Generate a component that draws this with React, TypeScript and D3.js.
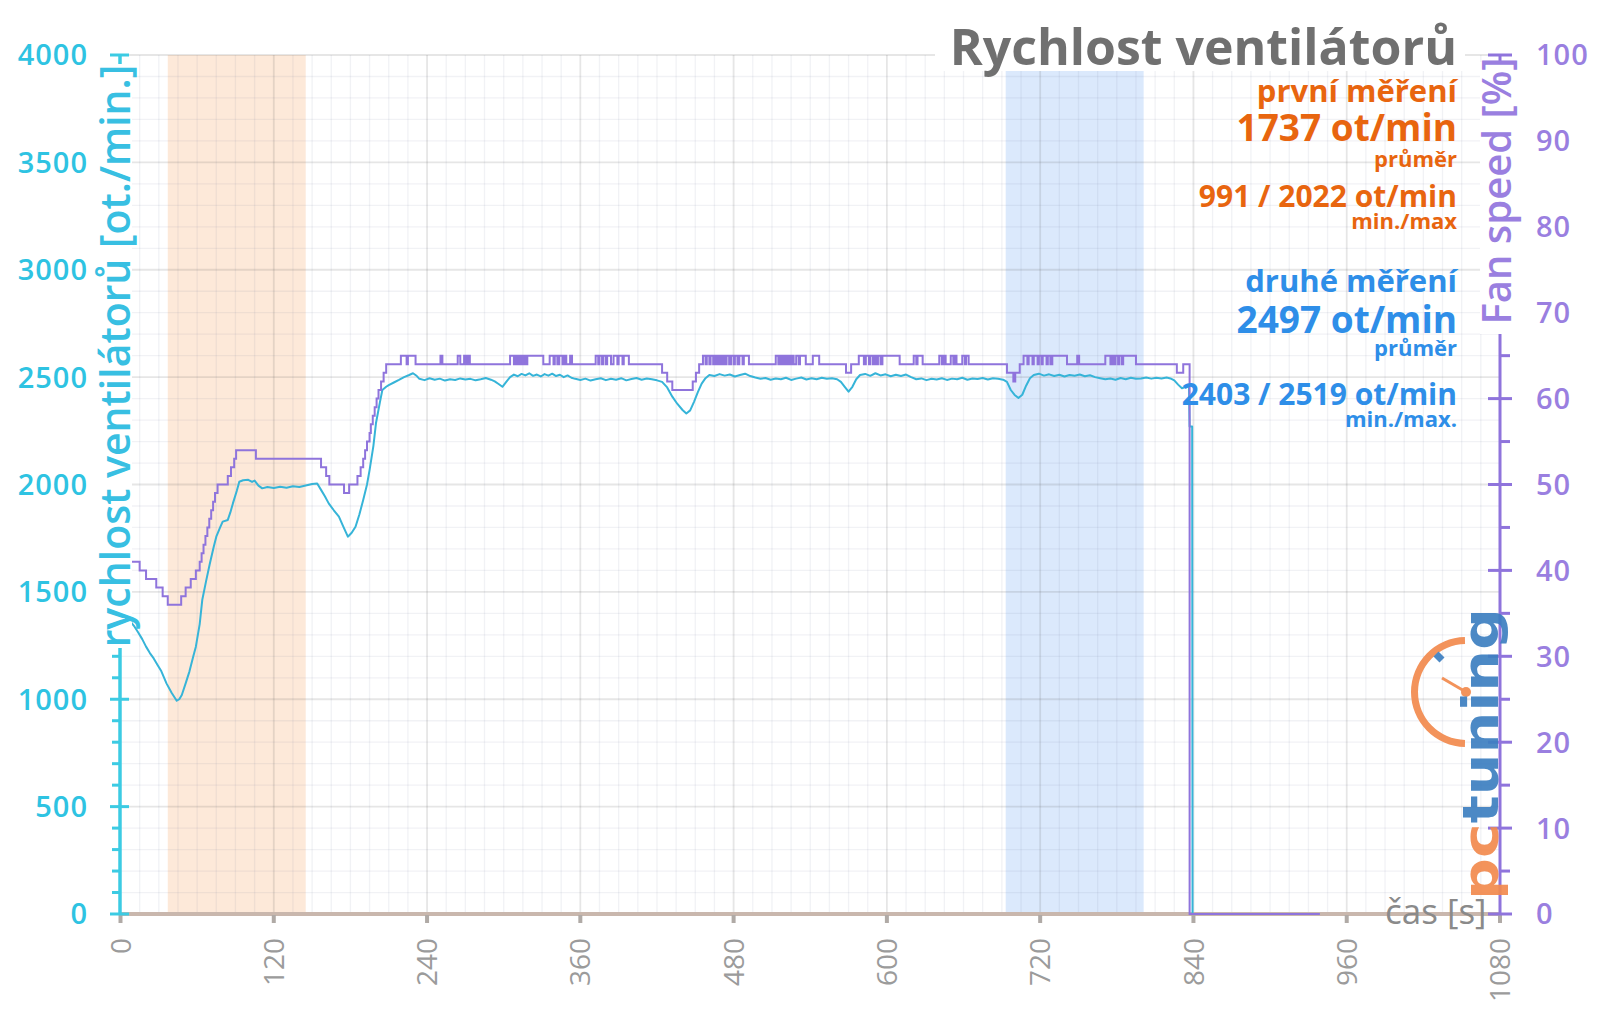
import React from "react";
import * as d3 from "d3";

// ---------- DATA ----------
const xTicks = [0, 120, 240, 360, 480, 600, 720, 840, 960, 1080];
const leftTicks = [0, 500, 1000, 1500, 2000, 2500, 3000, 3500, 4000];
const rightTicks = [0, 10, 20, 30, 40, 50, 60, 70, 80, 90, 100];

const firstRange: [number, number] = [37, 145];
const secondRange: [number, number] = [693, 801];

// fan rpm (time s, rpm)
const rpmSeries: [number, number][] = [
  [0, 1410], [4, 1390], [8, 1360], [11, 1338], [14, 1310], [17, 1280], [20, 1245], [23, 1215],
  [26, 1190], [29, 1160], [32, 1130], [36, 1074], [40, 1030], [44, 993], [46, 1000], [48, 1020],
  [51, 1074], [54, 1130], [57, 1200], [59, 1245], [62, 1350], [64, 1462], [67, 1550], [70, 1633],
  [73, 1710], [75, 1757], [78, 1800], [80, 1827], [84, 1835], [86, 1870], [88, 1912], [91, 1970],
  [93, 2013], [96, 2020], [100, 2022], [103, 2012], [105, 2018], [108, 1995], [111, 1982], [115, 1988],
  [120, 1984], [125, 1990], [130, 1985], [135, 1992], [140, 1988], [145, 1995], [150, 2002], [154, 2005],
  [157, 1975], [160, 1945], [163, 1912], [167, 1880], [171, 1850], [174, 1810], [178, 1757], [181, 1775],
  [184, 1803], [187, 1860], [190, 1928], [193, 2000], [195, 2067], [198, 2180], [200, 2285], [203, 2380],
  [205, 2440], [208, 2455], [210, 2463], [214, 2475], [218, 2487], [222, 2500], [226, 2510], [229, 2518],
  [232, 2505], [234, 2492], [238, 2486], [242, 2495], [246, 2488], [250, 2493], [254, 2484], [258, 2490],
  [262, 2487], [266, 2494], [270, 2489], [274, 2492], [278, 2485], [282, 2490], [286, 2496], [290, 2488],
  [293, 2480], [296, 2468], [299, 2455], [302, 2478], [305, 2500], [308, 2512], [311, 2504], [314, 2515],
  [317, 2508], [320, 2518], [323, 2506], [326, 2512], [329, 2503], [332, 2514], [335, 2507], [338, 2516],
  [341, 2505], [344, 2511], [347, 2500], [350, 2508], [353, 2497], [356, 2492], [360, 2487], [364, 2493],
  [368, 2484], [372, 2490], [376, 2495], [380, 2486], [384, 2492], [388, 2488], [392, 2495], [396, 2485],
  [400, 2491], [404, 2496], [408, 2488], [412, 2494], [416, 2490], [420, 2485], [424, 2478], [428, 2452],
  [432, 2409], [436, 2375], [440, 2347], [443, 2331], [446, 2345], [449, 2385], [452, 2430], [455, 2470],
  [458, 2495], [461, 2510], [465, 2505], [469, 2514], [473, 2507], [477, 2512], [481, 2503], [485, 2510],
  [489, 2516], [493, 2505], [497, 2498], [501, 2492], [505, 2496], [509, 2488], [513, 2494], [517, 2490],
  [521, 2497], [525, 2487], [529, 2493], [533, 2498], [537, 2489], [541, 2495], [545, 2490], [549, 2497],
  [553, 2492], [557, 2495], [561, 2490], [564, 2478], [567, 2455], [570, 2432], [573, 2455], [576, 2490],
  [579, 2510], [583, 2515], [587, 2506], [591, 2518], [595, 2508], [599, 2513], [603, 2504], [607, 2511],
  [611, 2505], [615, 2512], [619, 2500], [623, 2490], [627, 2494], [631, 2486], [635, 2492], [639, 2489],
  [643, 2495], [647, 2487], [651, 2493], [655, 2490], [659, 2497], [663, 2488], [667, 2494], [671, 2491],
  [675, 2496], [679, 2489], [683, 2495], [687, 2492], [691, 2488], [694, 2478], [697, 2440], [700, 2417],
  [703, 2403], [706, 2418], [709, 2460], [712, 2495], [715, 2510], [719, 2516], [723, 2507], [727, 2513],
  [731, 2505], [735, 2511], [739, 2503], [743, 2510], [747, 2506], [751, 2512], [755, 2504], [759, 2509],
  [763, 2500], [767, 2495], [771, 2490], [775, 2494], [779, 2488], [783, 2496], [787, 2490], [791, 2497],
  [795, 2492], [799, 2494], [803, 2498], [807, 2493], [811, 2497], [815, 2494], [819, 2498], [822, 2494],
  [825, 2485], [828, 2465], [831, 2448], [834, 2455], [836.5, 2455], [837, 2270], [839, 2270], [839.3, 0],
  [840, 0],
];

// fan speed % (time s, percent) change points, step-after
const fanSeries: [number, number][] = [
  [0, 41], [15, 40], [20, 39], [28, 38], [33, 37], [37, 36], [47.5, 37], [51, 38], [55, 39], [59, 40],
  [62, 41], [63.5, 42], [65, 43], [66.5, 44], [68, 45], [69.5, 46], [71, 47], [72.5, 48], [74, 49],
  [76, 50], [84, 51], [86.5, 52], [89, 53], [90.5, 54], [106, 53], [157, 52], [161, 51], [163.5, 50],
  [175, 49], [179, 50], [185.5, 51], [188, 52], [190, 53], [191.5, 54], [193, 55], [195, 56], [196, 57],
  [197.5, 58], [199, 59], [200.5, 60], [202, 61], [204, 62], [206, 63], [208, 64],
  [219.5, 65], [224, 64], [225, 65], [231, 64],
  [250.5, 65], [252, 64],
  [264, 65], [266, 64], [269, 65], [270.5, 64], [272, 65], [273.5, 64],
  [305, 65], [308, 64], [309.5, 65], [311, 64], [312.5, 65], [314, 64], [315.5, 65], [317, 64],
  [318.5, 65], [331, 64], [336, 65], [339, 64], [340, 65], [342, 64], [343.5, 65], [346, 64],
  [347.5, 65], [349, 64], [352, 65], [353.5, 64],
  [372, 65], [374, 64], [375, 65], [377, 64], [378, 65], [380, 64], [381, 65], [384, 64], [386, 65],
  [389, 64], [390, 65], [393, 64], [394, 65], [398, 64],
  [424, 63], [428, 62], [432, 61], [448, 62], [450.5, 63], [453, 64],
  [456, 65], [458, 64], [459, 65], [461, 64], [462, 65], [464, 64], [465.5, 65], [467, 64], [468.5, 65],
  [470, 64], [471.5, 65], [473, 64], [474.5, 65], [476.5, 64], [478, 65], [480, 64], [481, 65],
  [483, 64], [484.5, 65], [487, 64], [488, 65], [492, 64],
  [513, 65], [515, 64], [516.5, 65], [518, 64], [519.5, 65], [521, 64], [522.5, 65], [524, 64],
  [525.5, 65], [527, 64], [529, 65], [531, 64], [532, 65], [536.5, 64], [542, 65], [547, 64],
  [568, 63], [572, 64],
  [578, 65], [582, 64], [583.5, 65], [586, 64], [587, 65], [589, 64], [590.5, 65], [592, 64],
  [593, 65], [595, 64], [596.5, 65], [610, 64],
  [621, 65], [623, 64], [624, 65], [628, 64],
  [641, 65], [643, 64], [644.5, 65], [646, 64], [650, 65], [652, 64], [653, 65], [654.5, 64],
  [659, 65], [661, 64], [662, 65], [664, 64],
  [694, 63], [699, 62], [700.5, 63], [704, 64], [707, 65], [710, 64], [711, 65], [714, 64], [715, 65],
  [718, 64], [719, 65], [721, 64], [722, 65], [725, 64], [726, 65], [728, 64], [729.5, 65], [741, 64],
  [749, 65], [750.5, 64],
  [771, 65], [775, 64], [776, 65], [777.5, 64], [779, 65], [781, 64], [782, 65], [784, 64], [785, 65],
  [795, 64], [827, 63], [832, 64], [837, 0], [939, 0],
];

const titleText = "Rychlost ventilátorů";
const leftAxisTitle = "rychlost ventilátorů [ot./min.]";
const rightAxisTitle = "Fan speed [%]";
const xAxisTitle = "čas [s]";

const firstStats = ["první měření", "1737 ot/min", "průměr", "991 / 2022 ot/min", "min./max"];
const secondStats = ["druhé měření", "2497 ot/min", "průměr", "2403 / 2519 ot/min", "min./max."];

// ---------- STYLE ----------
const FONT = "'Open Sans', 'Noto Sans', sans-serif";
const CYAN_LINE = "#36b4d8";
const PURPLE = "#9a7fe0";
const PURPLE_LINE = "#8f74dc";
const ORANGE = "#e8650f";
const BLUE = "#2e8ee8";

export default function App() {
  const W = 1600, H = 1009;
  const x = d3.scaleLinear().domain([0, 1080]).range([120.5, 1500]);
  const y = d3.scaleLinear().domain([0, 4000]).range([914, 55]);
  const yp = d3.scaleLinear().domain([0, 100]).range([914, 55]);

  const rpmLine = d3.line<[number, number]>().x(d => x(d[0])).y(d => y(d[1])).curve(d3.curveLinear);
  const fanLine = d3.line<[number, number]>().x(d => x(d[0])).y(d => yp(d[1])).curve(d3.curveStepAfter);

  const minorX = d3.range(0, 1081, 15).filter(v => v % 120 !== 0);
  const minorY = d3.range(0, 4001, 100).filter(v => v % 500 !== 0);
  const rightMinor = d3.range(5, 100, 10);

  const statY = [102, 141, 167, 207, 229];
  const statY2 = [292, 333, 356, 405, 427];
  const statSize = [31, 37, 22, 30, 22];

  const arcGen = d3.arc()({
    innerRadius: 48, outerRadius: 55, startAngle: -Math.PI + 0.02, endAngle: -0.02,
  } as any) as string;

  return (
    <svg width={W} height={H} viewBox={`0 0 ${W} ${H}`}
      style={{ position: "absolute", left: 0, top: 0, background: "#fff" }}
      fontFamily={FONT}>
      <rect x={0} y={0} width={W} height={H} fill="#fff" />
      {/* shaded ranges */}
      <rect x={x(firstRange[0])} y={55} width={x(firstRange[1]) - x(firstRange[0])} height={914 - 55} fill="#fde9d9" />
      <rect x={x(secondRange[0])} y={55} width={x(secondRange[1]) - x(secondRange[0])} height={914 - 55} fill="#dbe9fc" />

      {/* grid */}
      {minorX.map(v => (
        <line key={"mx" + v} x1={x(v)} x2={x(v)} y1={55} y2={914} stroke="rgba(120,130,160,0.10)" strokeWidth={1.3} />
      ))}
      {minorY.map(v => (
        <line key={"my" + v} x1={120} x2={1500} y1={y(v)} y2={y(v)} stroke="rgba(120,130,160,0.10)" strokeWidth={1.3} />
      ))}
      {xTicks.filter(v => v > 0 && v < 1080).map(v => (
        <line key={"Mx" + v} x1={x(v)} x2={x(v)} y1={55} y2={914} stroke="rgba(90,90,90,0.15)" strokeWidth={1.8} />
      ))}
      {leftTicks.filter(v => v > 0).map(v => (
        <line key={"My" + v} x1={120} x2={1500} y1={y(v)} y2={y(v)} stroke="rgba(90,90,90,0.15)" strokeWidth={1.8} />
      ))}

      {/* white box behind title */}
      <rect x={935} y={8} width={530} height={63} fill="#fff" />

      {/* x axis line */}
      <line x1={119} x2={1500} y1={914} y2={914} stroke="#c9b7ad" strokeWidth={4} />

      {/* series */}
      <path d={rpmLine(rpmSeries) || ""} fill="none" stroke={CYAN_LINE} strokeWidth={2} strokeLinejoin="round" />
      <path d={fanLine(fanSeries) || ""} fill="none" stroke={PURPLE_LINE} strokeWidth={2} />

      {/* x axis ticks */}
      {xTicks.map(v => (
        <g key={"xt" + v}>
          <line x1={x(v)} x2={x(v)} y1={915} y2={923} stroke="#b0aaa6" strokeWidth={4} />
          <text transform={`translate(${x(v)},938) rotate(-90)`} textAnchor="end" dy="0.36em"
            fontSize={28} fill="#9b9b9b">{v}</text>
        </g>
      ))}
      <text x={1385} y={924} fontSize={35} fill="#8a8a8a">{xAxisTitle}</text>

      {/* left axis */}
      <line x1={120} x2={120} y1={55} y2={915} stroke="#3ccbe3" strokeWidth={3.5} />
      {minorY.map(v => (
        <line key={"lmt" + v} x1={112} x2={120} y1={y(v)} y2={y(v)} stroke="#3ccbe3" strokeWidth={3} />
      ))}
      {leftTicks.map(v => (
        <g key={"lt" + v}>
          <line x1={110} x2={129} y1={y(v)} y2={y(v)} stroke="#3ccbe3" strokeWidth={3} />
          <text x={88} y={y(v)} dy="0.36em" textAnchor="end" fontSize={29} fontWeight={600}
            letterSpacing={1} fill="#2ec3e2">{v}</text>
        </g>
      ))}
      <rect x={94} y={64} width={38} height={584} fill="#fff" />
      <text transform={`translate(130,356) rotate(-90)`} textAnchor="middle" fontSize={41} fontWeight={600}
        fill="#38bfe2">{leftAxisTitle}</text>

      {/* right axis */}
      <line x1={1500} x2={1500} y1={55} y2={915} stroke={PURPLE_LINE} strokeWidth={3} />
      {rightMinor.map(v => (
        <line key={"rmt" + v} x1={1500} x2={1510} y1={yp(v)} y2={yp(v)} stroke={PURPLE_LINE} strokeWidth={3} />
      ))}
      {rightTicks.map(v => (
        <g key={"rt" + v}>
          <line x1={1488} x2={1512} y1={yp(v)} y2={yp(v)} stroke={PURPLE_LINE} strokeWidth={3} />
          <text x={1536} y={yp(v)} dy="0.36em" fontSize={29} fontWeight={600} letterSpacing={1}
            fill={PURPLE}>{v}</text>
        </g>
      ))}
      <rect x={1480} y={62} width={36} height={272} fill="#fff" />
      <text transform={`translate(1511,191) rotate(-90)`} textAnchor="middle" fontSize={40} fontWeight={600}
        fill={PURPLE}>{rightAxisTitle}</text>

      {/* title and stats */}
      <text x={1457} y={65} textAnchor="end" fontSize={50} fontWeight={700} fill="#707070">{titleText}</text>
      {firstStats.map((s, i) => (
        <text key={"f" + i} x={1457} y={statY[i]} textAnchor="end" fontSize={statSize[i]} fontWeight={700}
          fill={ORANGE}>{s}</text>
      ))}
      {secondStats.map((s, i) => (
        <text key={"s" + i} x={1457} y={statY2[i]} textAnchor="end" fontSize={statSize[i]} fontWeight={700}
          fill={BLUE}>{s}</text>
      ))}

      {/* logo */}
      <g opacity={0.92}>
        <path d={arcGen} transform="translate(1466,692)" fill="#f28a4e" />
        <line x1={1436} x2={1442} y1={654} y2={660} stroke="#3d7fc1" strokeWidth={7} />
        <line x1={1466} x2={1442} y1={692} y2={678} stroke="#f28a4e" strokeWidth={3} />
        <circle cx={1466} cy={692} r={5} fill="#f28a4e" />
        <text transform="translate(1498,900) rotate(-90)" fontSize={50} fontWeight={700}
          fontFamily="'DejaVu Sans', sans-serif" textLength={292} lengthAdjust="spacingAndGlyphs">
          <tspan fill="#f28a4e">pc</tspan><tspan fill="#3d7fc1">tuning</tspan>
        </text>
      </g>
    </svg>
  );
}
